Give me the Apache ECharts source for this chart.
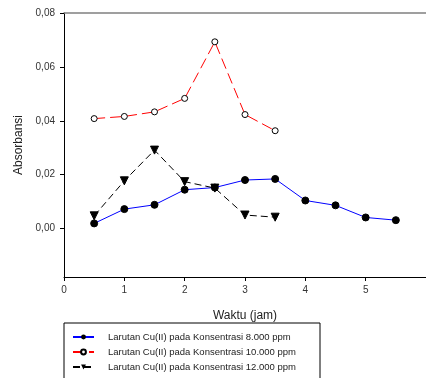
<!DOCTYPE html>
<html><head><meta charset="utf-8">
<script src="https://cdn.jsdelivr.net/npm/echarts@6/dist/echarts.min.js"></script>
<style>html,body{margin:0;padding:0;background:#fff}#c{width:426px;height:378px}</style>
</head><body><div id="c"></div>
<script>
const xValues = [0.5, 1, 1.5, 2, 2.5, 3, 3.5, 4, 4.5, 5, 5.5];
const s8000 = [0.0019, 0.0072, 0.0088, 0.0144, 0.0152, 0.0180, 0.0184, 0.0104, 0.0086, 0.0041, 0.0031];
const s10000 = [0.0408, 0.0416, 0.0433, 0.0483, 0.0693, 0.0423, 0.0363];
const s12000 = [0.0047, 0.0177, 0.0291, 0.0174, 0.0150, 0.0050, 0.0042];
const names = ['Larutan Cu(II) pada Konsentrasi 8.000 ppm','Larutan Cu(II) pada Konsentrasi 10.000 ppm','Larutan Cu(II) pada Konsentrasi 12.000 ppm'];
const yTicks = [0, 0.02, 0.04, 0.06, 0.08];
const xTicks = [0, 1, 2, 3, 4, 5];
const pair = (vals) => vals.map((v, i) => [xValues[i], v]);
const font = 'Liberation Sans, Arial, sans-serif';
const chart = echarts.init(document.getElementById('c'));
chart.setOption({
  animation: false,
  grid: {left: 64, top: 13, right: -5, bottom: 101},
  xAxis: [{
    type: 'value', min: 0, max: 6,
    name: 'Waktu (jam)', nameLocation: 'middle', nameGap: 33,
    nameTextStyle: {fontFamily: font, fontSize: 12, color: '#222'},
    axisLine: {onZero: false, lineStyle: {color: '#000', width: 1}},
    axisTick: {customValues: xTicks, length: 4, lineStyle: {color: '#000'}},
    axisLabel: {customValues: xTicks, margin: 8, fontFamily: font, fontSize: 10, color: '#333'},
    splitLine: {show: false}
  }, {
    type: 'value', min: 0, max: 6, position: 'top',
    axisLine: {show: true, onZero: false, lineStyle: {color: '#808080', width: 1.5}},
    axisTick: {show: false}, axisLabel: {show: false}, splitLine: {show: false}
  }],
  yAxis: {
    type: 'value', min: -0.018, max: 0.08,
    name: 'Absorbansi', nameLocation: 'middle', nameGap: 37,
    nameTextStyle: {fontFamily: font, fontSize: 12, color: '#222'},
    axisLine: {show: true, onZero: false, lineStyle: {color: '#000', width: 1}},
    axisTick: {show: true, customValues: yTicks, length: 4, lineStyle: {color: '#000'}},
    axisLabel: {customValues: yTicks, margin: 9, fontFamily: font, fontSize: 10, color: '#333',
      formatter: v => v.toFixed(2).replace('.', ',')},
    splitLine: {show: false}
  },
  legend: {
    orient: 'vertical', left: 64, top: 323, height: 60,
    padding: [9, 24, 9, 8],
    borderColor: '#000', borderWidth: 1,
    itemWidth: 21, itemHeight: 6, itemGap: 5,
    textStyle: {fontFamily: font, fontSize: 9.5, color: '#222', padding: [0, 0, 0, 9]},
    data: names
  },
  series: [{
    name: names[0], type: 'line', data: pair(s8000),
    symbol: 'circle', symbolSize: 7,
    lineStyle: {color: '#0000ff', width: 1},
    itemStyle: {color: '#000', borderColor: '#000'}
  }, {
    name: names[1], type: 'line', data: pair(s10000),
    symbol: 'circle', symbolSize: 6,
    lineStyle: {color: '#ff0000', width: 1, type: [11, 5]},
    itemStyle: {color: '#fff', borderColor: '#000', borderWidth: 1}
  }, {
    name: names[2], type: 'line', data: pair(s12000),
    symbol: 'triangle', symbolRotate: 180, symbolSize: 8,
    lineStyle: {color: '#000', width: 1, type: [7, 4]},
    itemStyle: {color: '#000', borderColor: '#000'}
  }]
});
</script></body></html>
